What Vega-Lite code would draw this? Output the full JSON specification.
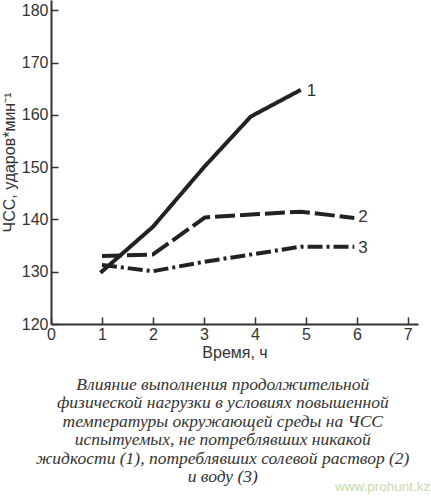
{
  "$schema": "https://vega.github.io/schema/vega-lite/v6.json",
  "autosize": "none",
  "width": 367,
  "height": 324,
  "padding": {"left": 51, "top": 0, "right": 13, "bottom": 176},
  "background": "white",
  "config": {
    "view": {"stroke": null},
    "font": "Liberation Sans"
  },
  "datasets": {
    "lines": [
      {"series": "1", "t": 0.97, "hr": 129.8},
      {"series": "1", "t": 2.0, "hr": 138.6},
      {"series": "1", "t": 3.0, "hr": 150.0},
      {"series": "1", "t": 3.92, "hr": 159.7},
      {"series": "1", "t": 4.9, "hr": 164.8},
      {"series": "2", "t": 1.0, "hr": 133.0},
      {"series": "2", "t": 2.0, "hr": 133.3},
      {"series": "2", "t": 3.02, "hr": 140.4},
      {"series": "2", "t": 4.0, "hr": 141.0},
      {"series": "2", "t": 4.9, "hr": 141.5},
      {"series": "2", "t": 5.95, "hr": 140.3},
      {"series": "3", "t": 1.0, "hr": 131.3},
      {"series": "3", "t": 2.0, "hr": 130.1},
      {"series": "3", "t": 3.0, "hr": 131.9},
      {"series": "3", "t": 4.0, "hr": 133.4},
      {"series": "3", "t": 4.9, "hr": 134.8},
      {"series": "3", "t": 5.95, "hr": 134.8}
    ],
    "labels": [
      {"label": "1", "t": 5.11, "hr": 164.6},
      {"label": "2", "t": 6.12, "hr": 140.5},
      {"label": "3", "t": 6.12, "hr": 134.6}
    ],
    "caption": [
      {"text": "Влияние выполнения продолжительной\nфизической нагрузки в условиях повышенной\nтемпературы окружающей среды на ЧСС\nиспытуемых, не потреблявших никакой\nжидкости (1), потреблявших солевой раствор (2)\nи воду (3)", "t": 3.37, "hr": 110.1}
    ],
    "mark": [
      {"text": "www.prohunt.kz", "t": 7.44, "hr": 88.8}
    ]
  },
  "layer": [
    {
      "data": {"name": "lines"},
      "mark": {"type": "line", "strokeWidth": 4, "color": "#222222", "strokeCap": "butt", "strokeJoin": "round"},
      "encoding": {
        "x": {
          "field": "t", "type": "quantitative",
          "scale": {"domain": [0, 7.2], "nice": false, "zero": false},
          "axis": {
            "title": "Время, ч",
            "titleFont": "Liberation Sans",
            "titleFontSize": 16,
            "titleFontWeight": "normal",
            "titleColor": "#333333",
            "titlePadding": 2,
            "values": [0, 0.5, 1, 1.5, 2, 2.5, 3, 3.5, 4, 4.5, 5, 5.5, 6, 6.5, 7],
            "labelExpr": "datum.value % 1 === 0 ? datum.value : ''",
            "labelFontSize": 16,
            "labelColor": "#333333",
            "labelPadding": 9,
            "labelFlush": false,
            "tickSize": -7,
            "tickWidth": 1.5,
            "tickColor": "#333333",
            "domainColor": "#333333",
            "domainWidth": 2,
            "grid": false
          }
        },
        "y": {
          "field": "hr", "type": "quantitative",
          "scale": {"domain": [120, 182], "nice": false, "zero": false},
          "axis": {
            "title": "ЧСС, ударов*мин⁻¹",
            "titleFont": "Liberation Sans",
            "titleFontSize": 16,
            "titleFontWeight": "normal",
            "titleColor": "#333333",
            "titlePadding": 4,
            "values": [120, 125, 130, 135, 140, 145, 150, 155, 160, 165, 170, 175, 180],
            "labelExpr": "datum.value % 10 === 0 ? datum.value : ''",
            "labelFontSize": 16,
            "labelColor": "#333333",
            "labelPadding": 10,
            "labelFlush": false,
            "tickSize": -7,
            "tickWidth": 1.5,
            "tickColor": "#333333",
            "domainColor": "#333333",
            "domainWidth": 2,
            "grid": false
          }
        },
        "detail": {"field": "series"},
        "strokeDash": {
          "field": "series", "type": "nominal",
          "scale": {"domain": ["1", "2", "3"], "range": [[1, 0], [20, 5], [15, 4, 3, 4]]},
          "legend": null
        }
      }
    },
    {
      "data": {"name": "labels"},
      "mark": {"type": "text", "fontSize": 17, "color": "#333333", "align": "center", "baseline": "middle"},
      "encoding": {
        "x": {"field": "t", "type": "quantitative"},
        "y": {"field": "hr", "type": "quantitative"},
        "text": {"field": "label"}
      }
    },
    {
      "data": {"name": "caption"},
      "mark": {"type": "text", "font": "Liberation Serif", "fontStyle": "italic", "fontSize": 17.5, "lineHeight": 18.5, "lineBreak": "\n", "color": "#333333", "align": "center", "baseline": "top"},
      "encoding": {
        "x": {"field": "t", "type": "quantitative"},
        "y": {"field": "hr", "type": "quantitative"},
        "text": {"field": "text"}
      }
    },
    {
      "data": {"name": "mark"},
      "mark": {"type": "text", "fontSize": 13.5, "color": "#c3dbad", "align": "right", "baseline": "middle"},
      "encoding": {
        "x": {"field": "t", "type": "quantitative"},
        "y": {"field": "hr", "type": "quantitative"},
        "text": {"field": "text"}
      }
    }
  ]
}
